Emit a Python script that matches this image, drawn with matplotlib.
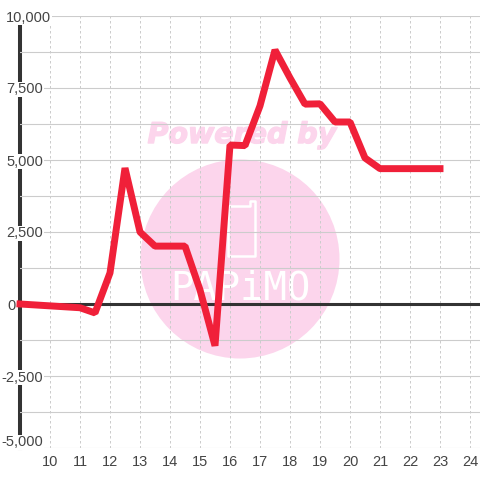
import matplotlib
matplotlib.use("Agg")
import matplotlib.pyplot as plt
import matplotlib.patheffects as pe
from matplotlib.patches import Circle
from matplotlib.lines import Line2D
from matplotlib.transforms import ScaledTranslation

hours = [9, 11, 11.5, 12, 12.5, 13, 13.5, 14, 14.5, 15, 15.5, 16, 16.5, 17, 17.5,
         18, 18.5, 19, 19.5, 20, 20.5, 21, 21.5, 22, 22.5, 23]
values = [0, -130, -310, 1080, 4720, 2500, 2010, 2010, 2010, 490, -1450, 5520, 5500,
          6880, 8820, 7850, 6940, 6950, 6320, 6320, 5070, 4700, 4700, 4700, 4700, 4700]
x_ticks = list(range(10, 25))
y_ticks = [-5000, -2500, 0, 2500, 5000, 7500, 10000]
y_labels = ["-5,000", "-2,500", "0", "2,500", "5,000", "7,500", "10,000"]
y_minor = [-3750, -1250, 1250, 3750, 6250, 8750]

plt.rcParams["font.family"] = "Liberation Sans"
W = 480.0
fig = plt.figure(figsize=(4.8, 4.8), dpi=100, facecolor="white")
ax = fig.add_axes([20 / W, 32 / W, 460 / W, 432 / W], zorder=1)
ax.patch.set_alpha(0)

# watermark, behind the axes
pink = "#fcd5ec"
ft = fig.transFigure
fig.add_artist(Circle((240 / W, 1 - 259 / W), 99.5 / W, transform=ft, fc=pink, ec="none", zorder=-5))
px = [228, 250, 250, 255, 255, 228, 228]
py = [206, 206, 201, 201, 256, 256, 206]
fig.add_artist(Line2D([p / W for p in px], [1 - p / W for p in py], transform=ft, color="white",
                      lw=1.8, solid_joinstyle="round", zorder=-4))
fig.text(240 / W, 1 - 289 / W, "PAPiMO", transform=ft, color="white", fontsize=28,
         family="DejaVu Sans Mono", ha="center", va="center", zorder=-4)
fig.text(242 / W, 1 - 135 / W, "Powered by", transform=ft, color=pink, fontsize=20.5,
         family="DejaVu Sans", weight="bold", style="italic", ha="center", va="center", zorder=-4,
         path_effects=[pe.withStroke(linewidth=1.0, foreground=pink)])

ax.set_xlim(9, 9 + 460 / 30)
ax.set_ylim(-5000, 10000)
ax.set_xticks(x_ticks)
ax.set_yticks(y_ticks)
ax.set_yticklabels(y_labels)
ax.set_yticks(y_minor, minor=True)

ax.set_axisbelow(False)
ax.grid(True, axis="y", which="both", color="#cccccc", lw=0.8, ls="-")
ax.grid(True, axis="x", which="major", color="#cccccc", lw=0.72, ls=(0, (2.5, 2.5)))

for s in ("top", "right", "bottom"):
    ax.spines[s].set_visible(False)
ax.spines["left"].set_color("#333333")
ax.spines["left"].set_linewidth(2.9)
ax.spines["left"].set_zorder(2)

ax.tick_params(axis="both", which="both", length=0)
ax.tick_params(axis="x", labelsize=10.5, labelcolor="#444444", pad=5)
ax.tick_params(axis="y", labelsize=10.5, labelcolor="#444444")
right_edges = {"10,000": 51, "0": 16}
for tick, lab in zip(ax.yaxis.get_major_ticks(), y_labels):
    edge = right_edges.get(lab, 43)
    tick.set_pad((20 - edge) * 0.72)
    tick.label1.set_bbox(dict(fc="white", ec="none", pad=0.5))
    if lab == "-5,000":
        tick.label1.set_transform(tick.label1.get_transform()
                                  + ScaledTranslation(0, 7 / 100, fig.dpi_scale_trans))
for t in ax.get_xticklabels():
    t.set_bbox(dict(fc="white", ec="none", pad=1))

ax.axhline(0, color="#333333", lw=2.2, zorder=2.7)
ax.plot(hours, values, color="#f02039", lw=5.0, solid_joinstyle="bevel",
        solid_capstyle="projecting", zorder=3, clip_on=False)

fig.savefig("out.png", dpi=100)
